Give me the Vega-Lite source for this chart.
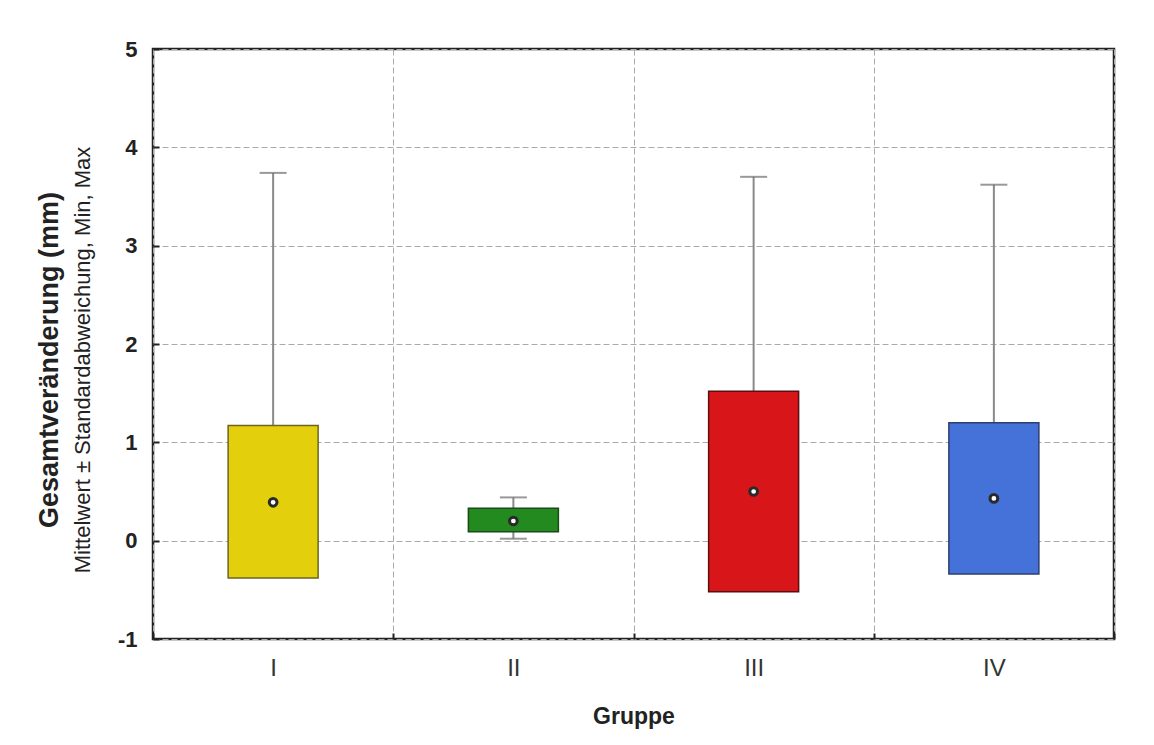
{
  "$schema": "https://vega.github.io/schema/vega-lite/v6.json",
  "autosize": "none",
  "width": 961,
  "height": 590,
  "padding": {"left": 153, "top": 49, "right": 40, "bottom": 106},
  "background": "white",
  "title": {
    "text": "Gesamtveränderung (mm)",
    "subtitle": "Mittelwert ± Standardabweichung, Min, Max",
    "orient": "left",
    "anchor": "middle",
    "font": "Liberation Sans",
    "fontSize": 27,
    "fontWeight": "bold",
    "color": "#222",
    "subtitleFont": "Liberation Sans",
    "subtitleFontSize": 22,
    "subtitleColor": "#222",
    "subtitlePadding": 9,
    "offset": 22,
    "dx": -16
  },
  "config": {
    "view": {"stroke": "#222", "strokeWidth": 2.5},
    "axis": {"labelFont": "Liberation Sans", "titleFont": "Liberation Sans", "domain": false}
  },
  "data": {
    "values": [
      {"Gruppe": "I", "mean": 0.39, "lo": -0.38, "hi": 1.17, "min": -0.3, "max": 3.74},
      {"Gruppe": "II", "mean": 0.2, "lo": 0.09, "hi": 0.33, "min": 0.02, "max": 0.44},
      {"Gruppe": "III", "mean": 0.5, "lo": -0.52, "hi": 1.52, "min": -0.45, "max": 3.7},
      {"Gruppe": "IV", "mean": 0.43, "lo": -0.34, "hi": 1.2, "min": -0.3, "max": 3.62}
    ]
  },
  "encoding": {
    "x": {
      "field": "Gruppe",
      "type": "nominal",
      "sort": ["I", "II", "III", "IV"],
      "scale": {"paddingInner": 0, "paddingOuter": 0},
      "axis": {
        "labelAngle": 0,
        "labelFontSize": 24,
        "labelColor": "#333",
        "labelPadding": 23,
        "tickBand": "extent",
        "tickSize": -6,
        "tickColor": "#222",
        "tickWidth": 2,
        "grid": true,
        "gridColor": "#aaaaaa",
        "gridDash": [6, 3],
        "gridWidth": 1,
        "title": "Gruppe",
        "titleFontSize": 23,
        "titleFontWeight": "bold",
        "titleColor": "#222",
        "titlePadding": 25
      }
    }
  },
  "layer": [
    {
      "mark": {"type": "rule", "color": "#8a8a8a", "strokeWidth": 2},
      "encoding": {
        "y": {
          "field": "min",
          "type": "quantitative",
          "scale": {"domain": [-1, 5], "nice": false},
          "axis": {
            "values": [-1, 0, 1, 2, 3, 4, 5],
            "labelExpr": "'' + datum.value",
            "title": null,
            "labelFontSize": 22,
            "labelFontWeight": "bold",
            "labelColor": "#222",
            "labelPadding": 22,
            "tickSize": -6,
            "tickColor": "#222",
            "tickWidth": 2,
            "grid": true,
            "gridColor": "#aaaaaa",
            "gridDash": [6, 3],
            "gridWidth": 1
          }
        },
        "y2": {"field": "max"}
      }
    },
    {
      "mark": {"type": "tick", "orient": "horizontal", "color": "#6e6e6e", "size": 27, "thickness": 2},
      "encoding": {"y": {"field": "max", "type": "quantitative"}}
    },
    {
      "mark": {"type": "tick", "orient": "horizontal", "color": "#6e6e6e", "size": 27, "thickness": 2},
      "encoding": {"y": {"field": "min", "type": "quantitative"}}
    },
    {
      "mark": {"type": "bar", "width": 90, "strokeWidth": 1.5},
      "encoding": {
        "y": {"field": "lo", "type": "quantitative"},
        "y2": {"field": "hi"},
        "fill": {
          "field": "Gruppe",
          "type": "nominal",
          "scale": {"domain": ["I", "II", "III", "IV"], "range": ["#e3cf0c", "#238a1f", "#d81519", "#4472d8"]},
          "legend": null
        },
        "stroke": {
          "field": "Gruppe",
          "type": "nominal",
          "scale": {"domain": ["I", "II", "III", "IV"], "range": ["#6b6520", "#1b4a18", "#5a1010", "#2c3f6e"]},
          "legend": null
        },
        "fillOpacity": {"value": 1}
      }
    },
    {
      "mark": {"type": "point", "shape": "circle", "filled": false, "fill": "white", "fillOpacity": 1, "stroke": "#2a2a2a", "strokeWidth": 3, "size": 60, "opacity": 1},
      "encoding": {"y": {"field": "mean", "type": "quantitative"}}
    }
  ]
}
